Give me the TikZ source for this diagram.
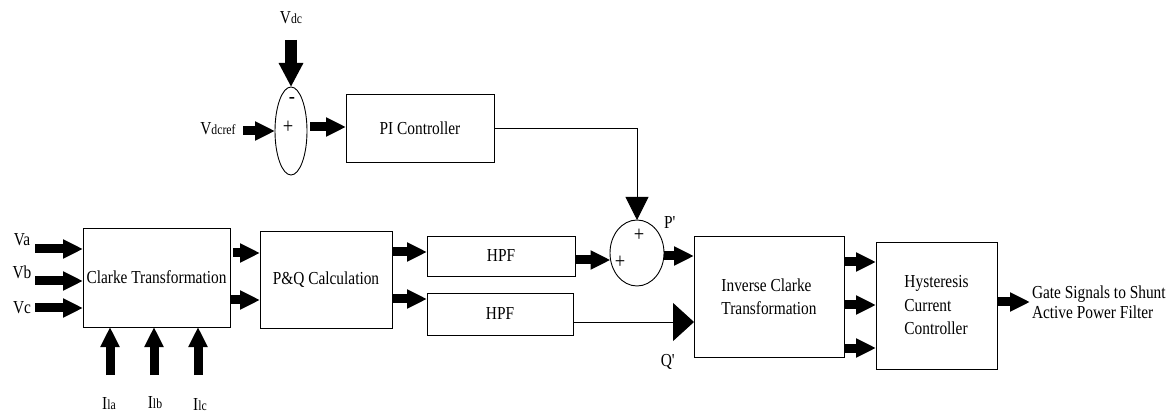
\documentclass[tikz,border=0pt]{standalone}
\usepackage{fontspec}
\setmainfont{Liberation Serif}[FakeStretch=0.84]
\usetikzlibrary{arrows.meta,shapes.geometric}
\newcommand{\dglbl}{\fontsize{18.3}{23.5}\selectfont}
\newcommand{\dgsml}{\fontsize{14}{15}\selectfont}
\begin{document}
\begin{tikzpicture}[x=1pt,y=-1pt,
  box/.style={draw,line width=0.9pt,inner sep=0pt,outer sep=0pt,font=\dglbl,align=left},
  sumnode/.style={draw,ellipse,line width=0.9pt,inner sep=0pt,outer sep=0pt},
  txt/.style={inner sep=0pt,outer sep=0pt,font=\dglbl,align=left},
  sign/.style={inner sep=0pt,outer sep=0pt,font=\fontsize{22}{22}\selectfont},
  bigarrow/.style={line width=9pt,line cap=butt,-{Triangle[width=18pt,length=20pt]}},
  vdcarrow/.style={line width=12pt,line cap=butt,-{Triangle[width=23pt,length=24pt]}},
  thinarrow/.style={line width=0.9pt,-{Triangle[width=23pt,length=23pt]}},
  qarrow/.style={line width=0.9pt,-{Triangle[width=38pt,length=21pt]}}
]
\useasboundingbox (0,0) rectangle (1169,419);

% blocks
\node[box,minimum width=147pt,minimum height=99pt] (clarke) at (156.5,277.5) {Clarke Transformation};
\node[box,minimum width=132pt,minimum height=97pt] (pq) at (326,279.5) {P\&Q Calculation};
\node[box,minimum width=148pt,minimum height=40pt] (hpfa) at (501,256) {HPF};
\node[box,minimum width=146pt,minimum height=42pt] (hpfb) at (500,314) {HPF};
\node[box,minimum width=148pt,minimum height=68pt] (pi) at (420,128) {PI Controller};
\node[box,minimum width=150pt,minimum height=121pt] (inv) at (769,296.5) {Inverse Clarke\\Transformation};
\node[box,minimum width=121pt,minimum height=127pt] (hyst) at (936.5,305.5) {Hysteresis\\Current\\Controller};

% summing junctions
\node[sumnode,minimum width=32pt,minimum height=88pt] (sumA) at (291,131) {};
\node[sumnode,minimum width=54pt,minimum height=66pt] (sumB) at (637,253) {};
\node[sign] (sAm) at (292,101) {-};
\node[sign] (sAp) at (288,127) {+};
\node[sign] (sBt) at (639,235) {+};
\node[sign] (sBl) at (620,262) {+};

% labels
\node[txt] (lva) at (22,240) {Va};
\node[txt] (lvb) at (22,272) {Vb};
\node[txt] (lvc) at (22,308) {Vc};
\node[txt] (lia) at (109,404) {I\dgsml la};
\node[txt] (lib) at (155,403) {I\dgsml lb};
\node[txt] (lic) at (200,405) {I\dgsml lc};
\node[txt] (lvdc) at (291,18) {V\dgsml dc};
\node[txt] (lvref) at (218,129) {V\dgsml dcref};
\node[txt] (lp) at (670,223) {P\textquotesingle};
\node[txt] (lq) at (668,362) {Q\textquotesingle};
\node[txt,anchor=west,font=\fontsize{18.3}{19.5}\selectfont] (lout) at (1032,302) {Gate Signals to Shunt\\Active Power Filter};

% free ends
\coordinate (va) at (35,249);
\coordinate (vb) at (35,281);
\coordinate (vc) at (35,308);
\coordinate (ia) at (110,375);
\coordinate (ib) at (154,375);
\coordinate (ic) at (198,375);
\coordinate (vdc) at (291,40);
\coordinate (vref) at (243,131);
\coordinate (out) at (1030,302);

% connectors
\draw[bigarrow] (va) -- (clarke.west |- va);
\draw[bigarrow] (vb) -- (clarke.west |- vb);
\draw[bigarrow] (vc) -- (clarke.west |- vc);
\draw[bigarrow] (ia) -- (ia |- clarke.south);
\draw[bigarrow] (ib) -- (ib |- clarke.south);
\draw[bigarrow] (ic) -- (ic |- clarke.south);
\draw[vdcarrow] (vdc) -- (sumA.north);
\draw[bigarrow] (vref) -- (sumA.west);
\draw[bigarrow] ([xshift=3pt]sumA.east |- 0,127) -- (pi.west |- 0,127);
\draw[thinarrow] (pi.east) -| (sumB.north);
\draw[bigarrow] ([xshift=3pt]clarke.east |- 0,253) -- (pq.west |- 0,253);
\draw[bigarrow] (clarke.east |- 0,300) -- (pq.west |- 0,300);
\draw[bigarrow] (pq.east |- 0,252) -- (hpfa.west |- 0,252);
\draw[bigarrow] (pq.east |- 0,299) -- (hpfb.west |- 0,299);
\draw[bigarrow] (hpfa.east |- 0,260) -- (610.5,260) coordinate (sbin);
\draw[bigarrow] (sumB.east |- 0,256) -- (inv.west |- 0,256);
\draw[qarrow] (hpfb.east |- 0,322) -- (inv.west |- 0,322);
\draw[bigarrow] (inv.east |- 0,262) -- (hyst.west |- 0,262);
\draw[bigarrow] (inv.east |- 0,305) -- (hyst.west |- 0,305);
\draw[bigarrow] (inv.east |- 0,348) -- (hyst.west |- 0,348);
\draw[bigarrow] (hyst.east |- out) -- (out);
\end{tikzpicture}
\end{document}
